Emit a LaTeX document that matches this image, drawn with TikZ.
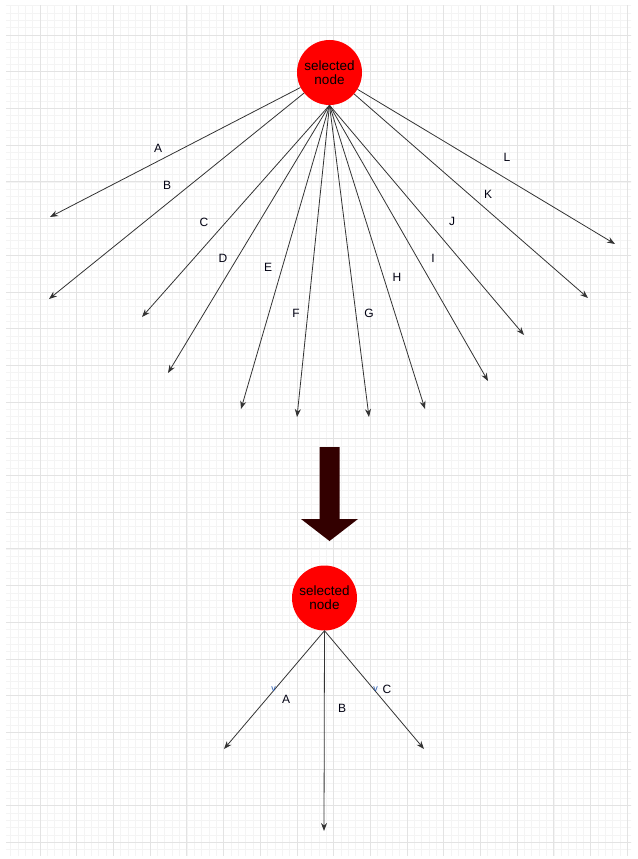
\documentclass[tikz,border=0pt]{standalone}
\usepackage{fontspec}
\setmainfont{Liberation Sans}
\usetikzlibrary{arrows.meta,positioning}
\definecolor{nodeRed}{HTML}{FF0000}
\definecolor{edgeGray}{HTML}{333333}
\definecolor{gridMajor}{HTML}{E3E3E3}
\definecolor{gridMinor}{HTML}{F4F4F4}
\definecolor{bigArrow}{HTML}{330000}
\definecolor{tickBlue}{HTML}{2458B0}
\definecolor{labelText}{HTML}{000011}

\begin{document}
\begin{tikzpicture}[
  x=1pt, y=-1pt,
  selnode/.style={
    circle, fill=nodeRed, minimum size=65pt, inner sep=0pt,
    align=center, font=\fontsize{13.5}{14.3}\selectfont
  },
  edge/.style={-{Stealth[length=8pt,width=6pt]}, line width=0.8pt, draw=edgeGray},
  lbl/.style={font=\fontsize{12}{13}\selectfont, text=labelText, inner sep=0pt},
  tick/.style={font=\fontsize{9}{9}\selectfont, text=tickBlue, inner sep=0pt}
]
\useasboundingbox (0,0) rectangle (637,859);

%  Background grid 
\begin{scope}
  \clip (6,6) rectangle (631,855);
  \foreach \i in {0,...,86} \draw[gridMinor, line width=0.6pt] ({3.3+7.34*\i},0) -- ++(0,859);
  \foreach \i in {0,...,117} \draw[gridMinor, line width=0.6pt] (0,{-1.7+7.34*\i}) -- ++(637,0);
  \foreach \i in {0,...,17} \draw[gridMajor, line width=0.8pt] ({3.3+36.7*\i},0) -- ++(0,859);
  \foreach \i in {0,...,24} \draw[gridMajor, line width=0.8pt] (0,{-1.7+36.7*\i}) -- ++(637,0);
\end{scope}

%  Before: all twelve branches 
\node[selnode] (top) at (329.5,72.5) {selected\\node};

\coordinate (endA) at (50,217);
\coordinate (endB) at (49,299);
\coordinate (endC) at (142,317);
\coordinate (endD) at (168,373);
\coordinate (endE) at (241,409);
\coordinate (endF) at (297,417);
\coordinate (endG) at (369,417);
\coordinate (endH) at (425,409);
\coordinate (endI) at (488,381);
\coordinate (endJ) at (524,335);
\coordinate (endK) at (588,298);
\coordinate (endL) at (615,244);

\foreach \e in {A,B,K,L} \draw[edge] (top) -- (end\e);
\foreach \e in {C,D,E,F,G,H,I,J} \draw[edge] (top.south) -- (end\e);

\node[lbl] (labA) at (158,148) {A};
\node[lbl] (labB) at (167,185) {B};
\node[lbl] (labC) at (204,222) {C};
\node[lbl] (labD) at (223,258) {D};
\node[lbl] (labE) at (268,267) {E};
\node[lbl] (labF) at (296,313) {F};
\node[lbl] (labG) at (369,313) {G};
\node[lbl] (labH) at (397,277) {H};
\node[lbl] (labI) at (433,258) {I};
\node[lbl] (labJ) at (452,221) {J};
\node[lbl] (labK) at (488,194) {K};
\node[lbl] (labL) at (507,157) {L};

%  Transition arrow 
\fill[bigArrow] (319.5,447) -- (339.5,447) -- (339.5,519) -- (358,519)
  -- (329.5,541) -- (301,519) -- (319.5,519) -- cycle;

%  After: three branches 
\node[selnode] (bot) at (324.5,598) {selected\\node};

\coordinate (endBotA) at (224,749);
\coordinate (endBotB) at (324,831);
\coordinate (endBotC) at (424,749);

\draw[edge] (bot.south) -- (endBotA);
\draw[edge] (bot.south) -- (endBotB);
\draw[edge] (bot.south) -- (endBotC);

\node[tick] (tickA) at (273.5,689) {v};
\node[lbl] (botA) at (286,699) {A};
\node[lbl] (botB) at (342,708) {B};
\node[tick] (tickC) at (375.5,689) {v};
\node[lbl] (botC) at (387,689) {C};

\end{tikzpicture}
\end{document}
